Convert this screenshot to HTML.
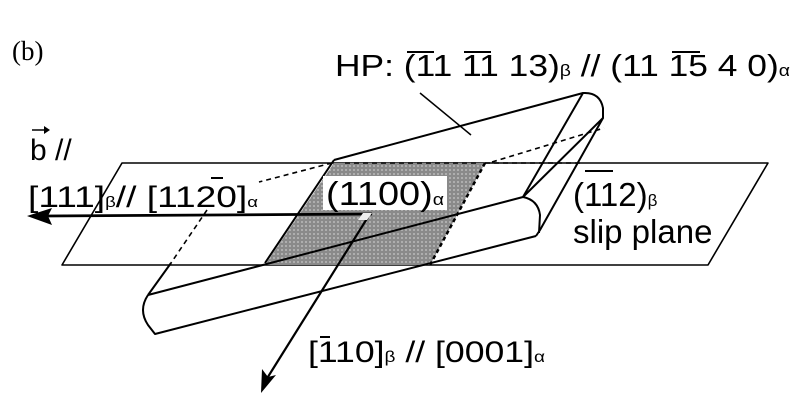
<!DOCTYPE html>
<html><head><style>body{margin:0;background:#fff}svg{display:block}</style></head>
<body>
<svg width="800" height="411" viewBox="0 0 800 411" xmlns="http://www.w3.org/2000/svg" font-family="Liberation Sans, sans-serif">
<defs>
<pattern id="dots" width="4" height="4" patternUnits="userSpaceOnUse">
<rect width="4" height="4" fill="#8a8a8a"/><circle cx="2" cy="2" r="0.9" fill="#c8c8c8"/>
</pattern>
</defs>
<g stroke="#000" stroke-width="2" fill="none" stroke-linejoin="round">
<polygon points="122,163 768,163 708,265 62,265" stroke-width="1.6"/>
<polygon points="334,163 485,163 430,265 265,265" fill="url(#dots)" stroke="none"/>
<line x1="485" y1="163" x2="430" y2="265" stroke-dasharray="4,3" stroke-width="2.5"/>
<path d="M334,160 L583,93 Q600,92 603,108 L603,118 L523,197 L148,295"/>
<line x1="334" y1="160" x2="265" y2="263"/>
<path d="M603,118 L540,230 L536,236"/>
<path d="M583,93 L523,197"/>
<path d="M523,197 Q538,200 540,215 L539,233"/>
<path d="M148,295 Q138,310 148,325 L155,334 L536,236"/>
<g stroke-dasharray="5,4" stroke-width="1.6">
<line x1="332" y1="163" x2="259" y2="182"/>
<line x1="207" y1="210" x2="171" y2="263"/>
<line x1="492" y1="162" x2="604" y2="128"/>
<line x1="485" y1="163" x2="580" y2="163"/>
<line x1="345" y1="163" x2="480" y2="163"/>
</g>
<line x1="171" y1="263" x2="148" y2="295"/>
<line x1="420" y1="93" x2="471" y2="135" stroke-width="1.5"/>
<line x1="45" y1="216" x2="372" y2="214" stroke-width="2.8"/>
<line x1="368" y1="217" x2="266" y2="380" stroke-width="2.2"/>
</g>
<polygon points="27,216 52,208 48,216 52,225" fill="#000"/>
<polygon points="261,393 262,369 268,377 276,375" fill="#000"/>
<rect x="323" y="176" width="124" height="34" fill="#fff"/>
<polygon points="358,220 367,220 372,213 363,213" fill="#eee"/>
<g fill="#000">
<text x="12" y="60" font-family="Liberation Serif, serif" font-size="27">(b)</text>
<text x="335" y="76" font-size="31" textLength="455" lengthAdjust="spacingAndGlyphs">HP: (11 11 13)<tspan font-size="17">β</tspan> // (11 15 4 0)<tspan font-size="17">α</tspan></text>
<text x="30" y="160" font-size="30">b //</text>
<line x1="32" y1="130" x2="47" y2="130" stroke="#000" stroke-width="1.5"/>
<polygon points="50,130 44,126 44,134" fill="#000"/>
<text x="28" y="207" font-size="30" textLength="230" lengthAdjust="spacingAndGlyphs">[111]<tspan font-size="15">β</tspan>// [1120]<tspan font-size="15">α</tspan></text>
<text x="326" y="205" font-size="33" textLength="118" lengthAdjust="spacingAndGlyphs">(1100)<tspan font-size="17">α</tspan></text>
<text x="573" y="206" font-size="33">(112)<tspan font-size="17">β</tspan></text>
<text x="573" y="243" font-size="33">slip plane</text>
<text x="308" y="362" font-size="30" textLength="237" lengthAdjust="spacingAndGlyphs">[110]<tspan font-size="16">β</tspan> // [0001]<tspan font-size="16">α</tspan></text>
</g>
<g stroke="#000" stroke-width="2">
<line x1="407" y1="52" x2="434" y2="52"/>
<line x1="464" y1="52" x2="491" y2="52"/>
<line x1="672" y1="52" x2="700" y2="52"/>
<line x1="585" y1="171" x2="613" y2="171"/>
<line x1="211" y1="178" x2="223" y2="178"/>
<line x1="320" y1="337" x2="330" y2="337"/>
</g>
</svg>
</body></html>
